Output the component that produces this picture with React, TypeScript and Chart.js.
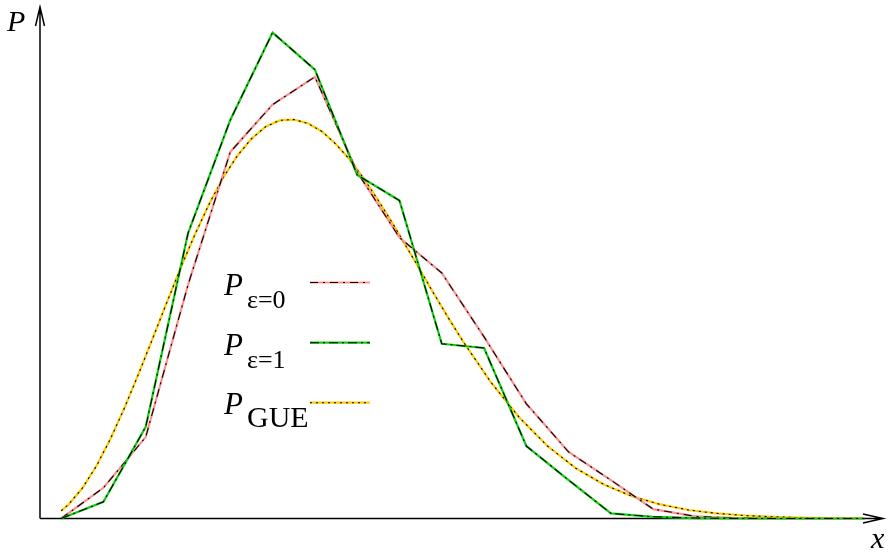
import { useEffect, useRef } from "react";
import { Chart, registerables } from "chart.js";

Chart.register(...registerables);

// bin centres (spacing s)
const binCenters = [
  0.075, 0.225, 0.375, 0.525, 0.675, 0.825, 0.975, 1.125, 1.275, 1.425,
  1.575, 1.725, 1.875, 2.025, 2.175, 2.325, 2.475, 2.625, 2.775, 2.925,
];
// P for epsilon = 0
const pEps0 = [
  0.0, 0.072, 0.191, 0.548, 0.86, 0.971, 1.036, 0.813, 0.659, 0.576,
  0.426, 0.269, 0.156, 0.09, 0.022, 0.005, 0.001, 0.0, 0.0, 0.0,
];
// P for epsilon = 1
const pEps1 = [
  0.0, 0.039, 0.215, 0.669, 0.935, 1.14, 1.053, 0.806, 0.746, 0.41,
  0.4, 0.17, 0.09, 0.012, 0.004, 0.001, 0.0, 0.0, 0.0, 0.0,
];
// GUE curve
const gueS = [
  0.075, 0.1, 0.15, 0.2, 0.25, 0.3, 0.35, 0.4, 0.45, 0.5, 0.55, 0.6, 0.65,
  0.7, 0.75, 0.8, 0.85, 0.9, 0.95, 1.0, 1.05, 1.1, 1.15, 1.2, 1.25, 1.3,
  1.35, 1.4, 1.45, 1.5, 1.6, 1.7, 1.8, 1.9, 2.0, 2.1, 2.2, 2.3, 2.4, 2.5,
  2.6, 2.7, 2.8, 2.92,
];
const gueP = [
  0.018, 0.032, 0.071, 0.123, 0.187, 0.26, 0.34, 0.423, 0.507, 0.59, 0.667,
  0.738, 0.8, 0.851, 0.891, 0.919, 0.934, 0.936, 0.927, 0.908, 0.878, 0.841,
  0.796, 0.746, 0.693, 0.637, 0.581, 0.524, 0.469, 0.416, 0.319, 0.237,
  0.17, 0.118, 0.08, 0.052, 0.033, 0.02, 0.012, 0.007, 0.004, 0.002, 0.001,
  0.0005,
];

const legendItems = [
  { sub: "ε=0", color: "#ff9090", dash: [8, 5, 2, 5] },
  { sub: "ε=1", color: "#11cc11", dash: [9, 4, 2, 4] },
  { sub: "GUE", color: "#ffcc00", dash: [2, 4] },
];

const SERIF = '"Liberation Serif", "DejaVu Serif", serif';

export default function App() {
  const ref = useRef<HTMLCanvasElement | null>(null);

  useEffect(() => {
    const canvas = ref.current;
    if (!canvas) return;

    const pts = (xs: number[], ys: number[]) =>
      xs.map((x, i) => ({ x, y: ys[i] }));

    const base = {
      pointRadius: 0,
      fill: false,
      tension: 0,
      clip: false as const,
    };

    const overlay = {
      id: "overlay",
      beforeDatasetsDraw(chart: any) {
        const ctx = chart.ctx as CanvasRenderingContext2D;
        const xs = chart.scales.x;
        const ys = chart.scales.y;
        const x0 = xs.getPixelForValue(0);
        const y0 = ys.getPixelForValue(0);
        const top = chart.chartArea.top;
        const right = chart.chartArea.right;
        ctx.save();
        ctx.strokeStyle = "#000";
        ctx.lineWidth = 1.5;
        ctx.beginPath();
        ctx.moveTo(x0, y0);
        ctx.lineTo(x0, top);
        ctx.moveTo(x0, y0);
        ctx.lineTo(right, y0);
        // arrows
        ctx.moveTo(x0 - 4.5, top + 19);
        ctx.lineTo(x0, top);
        ctx.lineTo(x0 + 4.5, top + 19);
        ctx.moveTo(right - 20, y0 - 4.5);
        ctx.lineTo(right, y0);
        ctx.lineTo(right - 20, y0 + 4.5);
        ctx.stroke();
        ctx.restore();
      },
      afterDraw(chart: any) {
        const ctx = chart.ctx as CanvasRenderingContext2D;
        ctx.save();
        ctx.fillStyle = "#000";
        ctx.textBaseline = "alphabetic";
        ctx.textAlign = "left";
        ctx.font = `italic 30px ${SERIF}`;
        ctx.fillText("P", 7, 31);
        ctx.fillText("x", 871, 548);

        const baseY = [295, 355, 414];
        const lineY = [282.5, 342.7, 402.7];
        legendItems.forEach((it, i) => {
          ctx.fillStyle = "#000";
          ctx.font = `italic 31px ${SERIF}`;
          ctx.fillText("P", 224, baseY[i]);
          ctx.font = `${it.sub === "GUE" ? 30 : 26}px ${SERIF}`;
          ctx.fillText(it.sub, 247, baseY[i] + 13);
          ctx.setLineDash([]);
          ctx.strokeStyle = it.color;
          ctx.lineWidth = 2.2;
          ctx.beginPath();
          ctx.moveTo(310, lineY[i]);
          ctx.lineTo(370, lineY[i]);
          ctx.stroke();
          ctx.setLineDash(it.dash);
          ctx.strokeStyle = "#000";
          ctx.lineWidth = 1.1;
          ctx.beginPath();
          ctx.moveTo(310, lineY[i]);
          ctx.lineTo(370, lineY[i]);
          ctx.stroke();
        });
        ctx.restore();
      },
    };

    const chart = new Chart(canvas, {
      type: "line",
      data: {
        datasets: [
          {
            ...base,
            data: pts(binCenters, pEps1),
            borderColor: "#000",
            borderWidth: 1.1,
            borderDash: legendItems[1].dash,
            order: 1,
          },
          {
            ...base,
            data: pts(binCenters, pEps1),
            borderColor: legendItems[1].color,
            borderWidth: 2.2,
            order: 2,
          },
          {
            ...base,
            data: pts(binCenters, pEps0),
            borderColor: "#000",
            borderWidth: 1.1,
            borderDash: legendItems[0].dash,
            order: 3,
          },
          {
            ...base,
            data: pts(binCenters, pEps0),
            borderColor: legendItems[0].color,
            borderWidth: 2.2,
            order: 4,
          },
          {
            ...base,
            data: pts(gueS, gueP),
            borderColor: "#000",
            borderWidth: 1.1,
            borderDash: legendItems[2].dash,
            order: 5,
          },
          {
            ...base,
            data: pts(gueS, gueP),
            borderColor: legendItems[2].color,
            borderWidth: 2.2,
            order: 6,
          },
        ],
      },
      options: {
        responsive: false,
        animation: false,
        events: [],
        layout: { padding: { left: 40, right: 6, top: 7, bottom: 34.5 } },
        plugins: {
          legend: { display: false },
          tooltip: { enabled: false },
        },
        scales: {
          x: { type: "linear", min: 0, max: 2.99, display: false },
          y: { type: "linear", min: 0, max: 1.2, display: false },
        },
      },
      plugins: [overlay],
    });

    return () => chart.destroy();
  }, []);

  return (
    <div
      style={{
        position: "fixed",
        left: 0,
        top: 0,
        width: 889,
        height: 553,
        background: "#fff",
      }}
    >
      <canvas ref={ref} width={889} height={553} />
    </div>
  );
}
